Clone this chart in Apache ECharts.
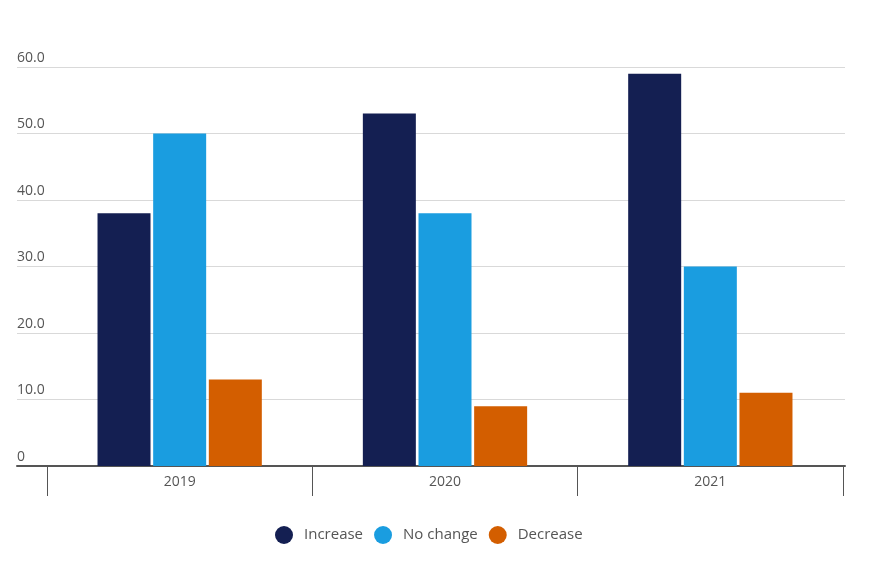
<!DOCTYPE html>
<html><head><meta charset="utf-8">
<script src="https://cdn.jsdelivr.net/npm/echarts@6/dist/echarts.min.js"></script>
<style>html,body{margin:0;padding:0;background:#fff}#c{width:877px;height:561px}</style>
</head><body><div id="c"></div>
<script>
const categories = ['2019', '2020', '2021'];
const increase = [38, 53, 59];
const noChange = [50, 38, 30];
const decrease = [13, 9, 11];
const yTicks = [0, 10, 20, 30, 40, 50, 60];

const chart = echarts.init(document.getElementById('c'));
const font = '"Open Sans", sans-serif';
const mkSeries = (name, data, color) => ({
  name, type: 'bar', data, xAxisIndex: 1, yAxisIndex: 1,
  barWidth: 53, barGap: '5%',
  itemStyle: { color }
});
chart.setOption({
  animation: false,
  textStyle: { fontFamily: font },
  grid: [
    { left: 17, right: 32, top: 67, bottom: 95 },
    { left: 47, right: 34, top: 67, bottom: 95 }
  ],
  xAxis: [
    { type: 'value', gridIndex: 0, min: 0, max: 1, show: true,
      axisLine: { show: true, onZero: false, lineStyle: { color: '#555', width: 2 } },
      axisTick: { show: false }, axisLabel: { show: false }, splitLine: { show: false } },
    { type: 'category', gridIndex: 1, data: categories,
      axisLine: { show: false },
      axisTick: { show: true, length: 30, lineStyle: { color: '#555', width: 1 } },
      axisLabel: { color: '#555', fontSize: 14, margin: 9, fontFamily: font },
      splitLine: { show: false } }
  ],
  yAxis: [
    { type: 'value', gridIndex: 0, min: 0, max: 60, interval: 10,
      axisLine: { show: false }, axisTick: { show: false },
      splitLine: { lineStyle: { color: '#d9d9d9', width: 1 } },
      axisLabel: { inside: true, margin: 0, verticalAlign: 'bottom', padding: [0, 0, 2, 0],
        color: '#555', fontSize: 14, fontFamily: font,
        formatter: v => yTicks.includes(v) ? (v === 0 ? '0' : v.toFixed(1)) : '' } },
    { type: 'value', gridIndex: 1, min: 0, max: 60, interval: 10, show: false }
  ],
  legend: {
    top: 521, left: 270, icon: 'circle', itemWidth: 18, itemHeight: 18, itemGap: 11,
    textStyle: { color: '#555', fontSize: 15, fontFamily: font, padding: [0, 0, 0, 6] },
    data: ['Increase', 'No change', 'Decrease']
  },
  series: [
    mkSeries('Increase', increase, '#141f52'),
    mkSeries('No change', noChange, '#1a9de0'),
    mkSeries('Decrease', decrease, '#d35e00')
  ]
});
</script></body></html>
